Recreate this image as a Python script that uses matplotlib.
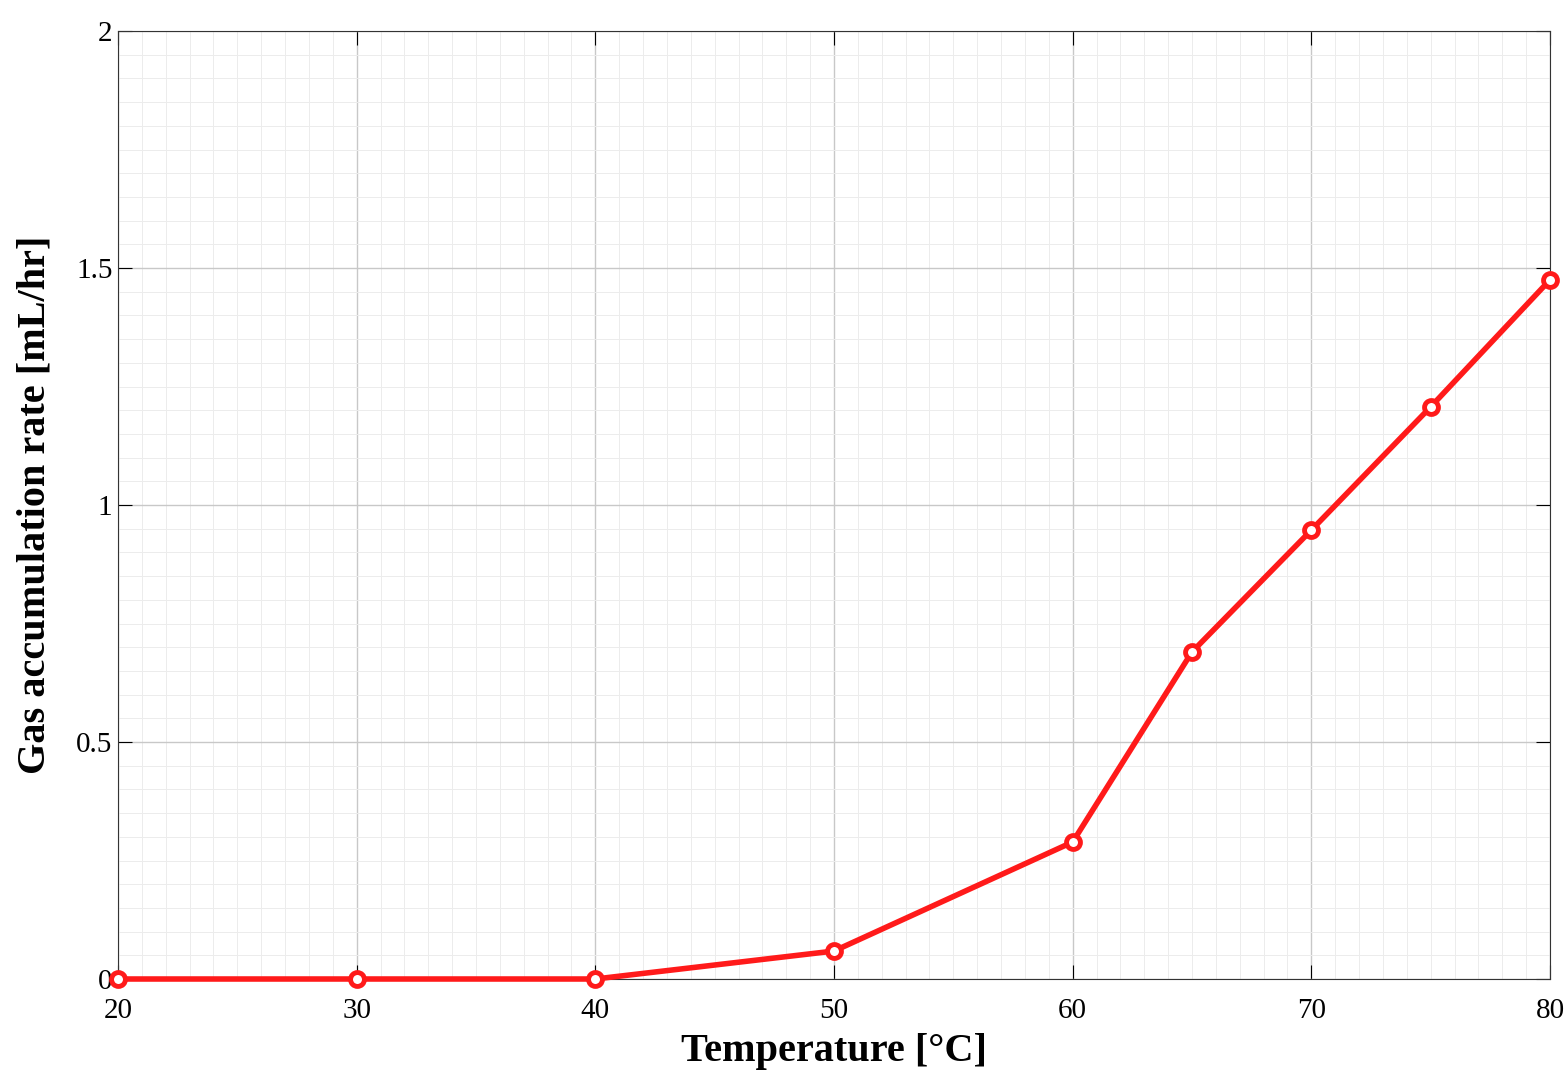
import matplotlib
matplotlib.use("Agg")
import matplotlib.pyplot as plt
from matplotlib.ticker import MultipleLocator

temperature = [20, 30, 40, 50, 60, 65, 70, 75, 80]
rate = [0.0, 0.0, 0.0, 0.059, 0.289, 0.69, 0.947, 1.207, 1.475]

plt.rcParams['font.family'] = ['Liberation Serif', 'DejaVu Serif']
fig = plt.figure(figsize=(15.64, 10.86), dpi=100)
ax = fig.add_axes([118/1564, 1-979/1086, (1550-118)/1564, (979-31)/1086])
ax.plot(temperature, rate, color='#ff1a1a', lw=4, marker='o', ms=10,
        mfc='white', mec='#ff1a1a', mew=3.5, clip_on=False, zorder=5)
ax.set_xlim(20, 80)
ax.set_ylim(0, 2)
ax.xaxis.set_major_locator(MultipleLocator(10))
ax.xaxis.set_minor_locator(MultipleLocator(1))
ax.yaxis.set_minor_locator(MultipleLocator(0.05))
ax.set_yticks([0, 0.5, 1, 1.5, 2])
ax.set_yticklabels(['0', '0.5', '1', '1.5', '2'])
ax.grid(which='major', color='#c8c8c8', lw=1)
ax.grid(which='minor', color='#ececec', lw=0.7)
ax.tick_params(which='both', direction='in', top=True, right=True, labelsize=21)
ax.tick_params(which='minor', length=0)
ax.tick_params(which='major', length=10)
ax.tick_params(axis='x', pad=14)
ax.tick_params(axis='y', pad=4)
for s in ax.spines.values():
    s.set_color('#333333')
ax.set_xlabel('Temperature [°C]', fontsize=29, fontweight='bold', labelpad=6)
ax.set_ylabel('Gas accumulation rate [mL/hr]', fontsize=29, fontweight='bold', labelpad=16)
fig.savefig('out.png', dpi=100)
